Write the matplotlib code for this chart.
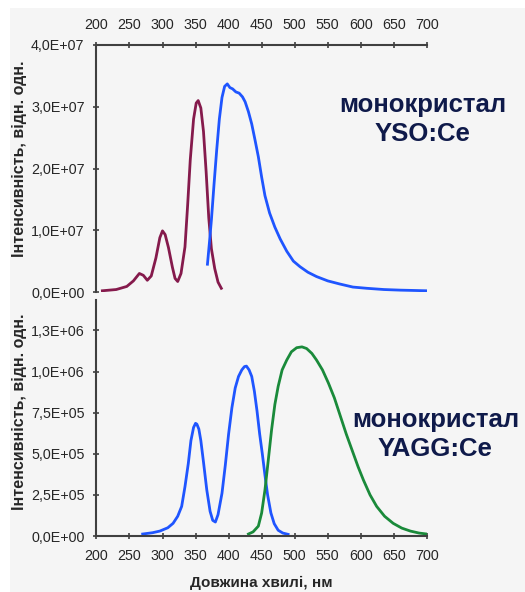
import numpy as np
import matplotlib
matplotlib.use('Agg')
import matplotlib.pyplot as plt
from matplotlib.patches import Rectangle

plt.rcParams['font.family'] = ['Liberation Sans', 'DejaVu Sans']

# YSO:Ce - excitation (maroon) and emission (blue)
yso_exc_wl = [209, 230, 246, 256, 265, 271, 277, 283, 290, 296, 300, 304, 309, 315, 319,
              323, 328, 334, 338, 342, 347, 351, 354, 358, 362, 366, 370, 374, 379, 384, 389]
yso_exc_i = [0.02e7, 0.04e7, 0.09e7, 0.18e7, 0.30e7, 0.27e7, 0.19e7, 0.26e7, 0.55e7, 0.88e7,
             0.99e7, 0.93e7, 0.72e7, 0.40e7, 0.22e7, 0.17e7, 0.30e7, 0.73e7, 1.40e7, 2.14e7,
             2.80e7, 3.06e7, 3.10e7, 2.98e7, 2.60e7, 1.95e7, 1.20e7, 0.70e7, 0.38e7, 0.16e7, 0.06e7]

yso_em_wl = [368, 371, 374, 378, 382, 386, 390, 394, 398, 402, 406, 411, 416, 421, 425, 430,
             435, 440, 445, 450, 455, 462, 470, 478, 488, 498, 508, 520, 533, 550, 568, 588,
             609, 635, 660, 680, 699]
yso_em_i = [0.45e7, 0.80e7, 1.17e7, 1.75e7, 2.30e7, 2.80e7, 3.15e7, 3.33e7, 3.37e7, 3.31e7,
            3.29e7, 3.24e7, 3.22e7, 3.16e7, 3.08e7, 2.92e7, 2.72e7, 2.46e7, 2.19e7, 1.86e7,
            1.56e7, 1.28e7, 1.05e7, 0.86e7, 0.66e7, 0.50e7, 0.41e7, 0.32e7, 0.25e7, 0.18e7,
            0.13e7, 0.08e7, 0.06e7, 0.04e7, 0.03e7, 0.025e7, 0.02e7]

# YAGG:Ce - excitation (blue) and emission (green)
yagg_exc_wl = [270, 285, 296, 308, 316, 323, 329, 334, 339, 343, 347, 350, 352, 355, 358, 362,
               367, 372, 376, 380, 384, 390, 395, 400, 405, 410, 415, 420, 424, 427, 431, 435,
               439, 443, 447, 451, 455, 459, 464, 469, 475, 482, 490]
yagg_exc_i = [0.012e6, 0.02e6, 0.03e6, 0.05e6, 0.077e6, 0.12e6, 0.18e6, 0.30e6, 0.44e6, 0.58e6,
              0.66e6, 0.685e6, 0.68e6, 0.65e6, 0.58e6, 0.45e6, 0.28e6, 0.15e6, 0.095e6, 0.085e6,
              0.13e6, 0.26e6, 0.43e6, 0.62e6, 0.78e6, 0.90e6, 0.97e6, 1.01e6, 1.03e6, 1.033e6,
              1.01e6, 0.97e6, 0.88e6, 0.76e6, 0.62e6, 0.50e6, 0.37e6, 0.25e6, 0.14e6, 0.075e6,
              0.035e6, 0.018e6, 0.01e6]

yagg_em_wl = [430, 437, 445, 450, 455, 460, 465, 470, 475, 481, 488, 495, 503, 511, 518, 526,
              533, 542, 551, 560, 569, 578, 587, 596, 604, 614, 624, 636, 649, 662, 675, 688, 700]
yagg_em_i = [0.012e6, 0.025e6, 0.06e6, 0.14e6, 0.28e6, 0.46e6, 0.645e6, 0.80e6, 0.91e6, 1.01e6,
             1.07e6, 1.12e6, 1.145e6, 1.15e6, 1.14e6, 1.11e6, 1.07e6, 1.01e6, 0.93e6, 0.84e6,
             0.73e6, 0.62e6, 0.52e6, 0.42e6, 0.34e6, 0.25e6, 0.18e6, 0.12e6, 0.077e6, 0.048e6,
             0.03e6, 0.018e6, 0.012e6]

x_ticks = [200, 250, 300, 350, 400, 450, 500, 550, 600, 650, 700]
top_yticks = [0, 1e7, 2e7, 3e7, 4e7]
top_ylabels = ['0,0E+00', '1,0E+07', '2,0E+07', '3,0E+07', '4,0E+07']
bot_yticks = [0, 2.5e5, 5e5, 7.5e5, 1e6, 1.25e6]
bot_ylabels = ['0,0E+00', '2,5E+05', '5,0E+05', '7,5E+05', '1,0E+06', '1,3E+06']

ylabel = 'Інтенсивність, відн. одн.'
xlabel = 'Довжина хвилі, нм'

spine_col = '#404040'
text_col = '#262626'
note_col = '#0f1a4a'

fig = plt.figure(figsize=(5.25, 5.92), dpi=100, facecolor='white')
bg = Rectangle((10 / 525, 0), 1, 584 / 592, transform=fig.transFigure,
               facecolor='#f5f5f5', edgecolor='none', zorder=-10)
fig.patches.append(bg)

ax1 = fig.add_axes([96.4 / 525, 1 - 292 / 592, 330.5 / 525, 247 / 592])
ax2 = fig.add_axes([96.4 / 525, 1 - 536 / 592, 330.5 / 525, 236 / 592])

for ax in (ax1, ax2):
    ax.set_facecolor('none')
    ax.set_xlim(200, 700)
    ax.set_xticks(x_ticks)
    for s in ax.spines.values():
        s.set_color(spine_col)
        s.set_linewidth(1.5)
    ax.spines['right'].set_visible(False)
    ax.tick_params(direction='inout', length=5, width=1.2, color=spine_col,
                   labelsize=10.3, labelcolor=text_col)

# top panel
ax1.plot(yso_exc_wl, yso_exc_i, color='#851a4c', lw=2)
ax1.plot(yso_em_wl, yso_em_i, color='#1f55ff', lw=2)
ax1.set_ylim(0, 4e7)
ax1.set_yticks(top_yticks)
ax1.set_yticklabels(top_ylabels)
ax1.spines['bottom'].set_visible(False)
ax1.xaxis.tick_top()
ax1.tick_params(axis='x', pad=7)
ax1.tick_params(axis='y', pad=6)
ax1.text(694, 2.79e7, 'монокристал\nYSO:Ce', color=note_col, fontsize=18.5,
         fontweight='bold', ha='center', va='center', linespacing=1.25, clip_on=False)

# bottom panel
ax2.plot(yagg_exc_wl, yagg_exc_i, color='#1f55ff', lw=2)
ax2.plot(yagg_em_wl, yagg_em_i, color='#1a8a3a', lw=2)
ax2.set_ylim(0, 1.435e6)
ax2.set_yticks(bot_yticks)
ax2.set_yticklabels(bot_ylabels)
ax2.spines['top'].set_visible(False)
ax2.tick_params(axis='x', pad=7)
ax2.tick_params(axis='y', pad=6)
ax2.text(713, 6.17e5, 'монокристал\nYAGG:Ce', color=note_col, fontsize=18.5,
         fontweight='bold', ha='center', va='center', linespacing=1.25, clip_on=False)

fig.text(20 / 525, 1 - 159 / 592, ylabel, rotation=90, ha='center', va='center',
         fontsize=11.5, fontweight='bold', color=text_col)
fig.text(20 / 525, 1 - 412 / 592, ylabel, rotation=90, ha='center', va='center',
         fontsize=11.5, fontweight='bold', color=text_col)
fig.text(261 / 525, 1 - 583 / 592, xlabel, ha='center', va='center',
         fontsize=11, fontweight='bold', color=text_col)

fig.savefig('out.png', dpi=100)
